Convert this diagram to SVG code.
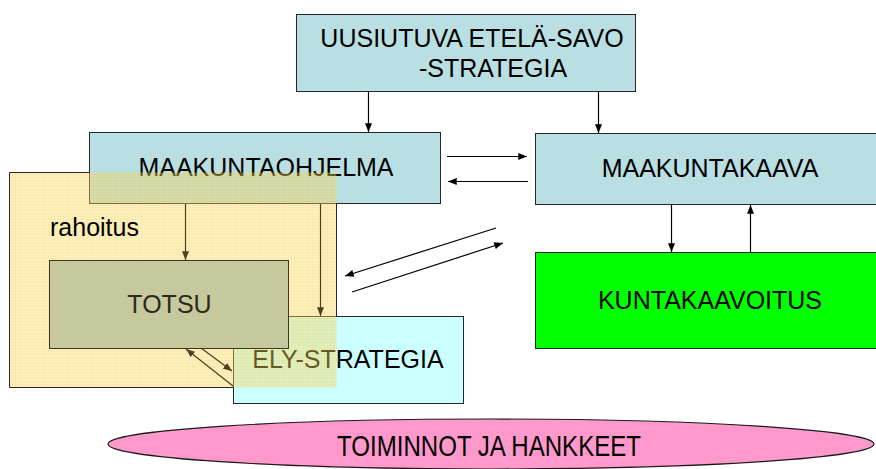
<svg xmlns="http://www.w3.org/2000/svg" width="876" height="469" viewBox="0 0 876 469">
  <defs>
    <style>
      .box { stroke: #262626; stroke-width: 1; }
      .blue { fill: #b9dfe2; }
      .lbl { font-family: "Liberation Sans", Arial, sans-serif; font-size: 25px; fill: #000; text-anchor: middle; }
      .conn { fill: none; stroke: #000; stroke-width: 1.2; marker-end: url(#ah); }
      .conn-in { fill: none; stroke: #4e4020; stroke-width: 1.2; marker-end: url(#ahb); }
    </style>
    <marker id="ah" viewBox="0 0 10 8" refX="10" refY="4" markerWidth="9" markerHeight="7" markerUnits="userSpaceOnUse" orient="auto">
      <path d="M0,0 L10,4 L0,8 z" fill="#000"/>
    </marker>
    <marker id="ahb" viewBox="0 0 10 8" refX="10" refY="4" markerWidth="9" markerHeight="7" markerUnits="userSpaceOnUse" orient="auto">
      <path d="M0,0 L10,4 L0,8 z" fill="#4e4020"/>
    </marker>
    <pattern id="grid" width="3" height="3" patternUnits="userSpaceOnUse">
      <rect width="3" height="3" fill="#ffdb5d"/>
      <path d="M0,0.5 H3 M0.5,0 V3" stroke="#f2c23a" stroke-width="0.6"/>
    </pattern>
  </defs>

  <g id="strategia">
    <rect class="box blue" x="296.5" y="14.5" width="339" height="77"/>
    <text class="lbl" x="472" y="47">UUSIUTUVA ETELÄ-SAVO</text>
    <text class="lbl" x="493" y="77">-STRATEGIA</text>
  </g>

  <g id="maakuntaohjelma">
    <rect class="box blue" x="89.5" y="132.5" width="351" height="71"/>
    <text class="lbl" x="266" y="176">MAAKUNTAOHJELMA</text>
  </g>

  <g id="maakuntakaava">
    <rect class="box blue" x="535.5" y="133.5" width="345" height="71"/>
    <text class="lbl" x="710" y="177">MAAKUNTAKAAVA</text>
  </g>

  <g id="kuntakaavoitus">
    <rect class="box" x="535.5" y="252.5" width="345" height="96" fill="#00ff00"/>
    <text class="lbl" x="710" y="309">KUNTAKAAVOITUS</text>
  </g>

  <g id="ely-strategia">
    <rect class="box" x="233.5" y="316.5" width="230" height="87" fill="#ccffff"/>
    <text class="lbl" x="348" y="368">ELY-STRATEGIA</text>
  </g>

  <g id="rahoitus">
    <rect x="9.5" y="172.5" width="327" height="215" fill="url(#grid)" opacity="0.42"/>
    <path d="M89.5,172.5 H9.5 V387.5 H233.5 M336.5,203.5 V316.5" fill="none" stroke="#262626" stroke-width="1"/>
    <text class="lbl" x="50" y="236" style="text-anchor:start">rahoitus</text>
  </g>

  <g id="totsu">
    <rect x="49.5" y="260.5" width="239" height="88" fill="#c6c89d" stroke="#3e3620" stroke-width="1"/>
    <text class="lbl" x="169.5" y="313" style="fill:#2e2a1a">TOTSU</text>
  </g>

  <g id="toiminnot">
    <ellipse cx="491" cy="444" rx="383" ry="25" fill="#ff99cc" stroke="#1a1a1a" stroke-width="1.2"/>
    <text class="lbl" x="489" y="456" style="font-size:29px" textLength="304" lengthAdjust="spacingAndGlyphs">TOIMINNOT JA HANKKEET</text>
  </g>

  <g id="connectors">
    <line class="conn" x1="368.5" y1="92" x2="368.5" y2="132"/>
    <line class="conn" x1="598.5" y1="92" x2="598.5" y2="133"/>
    <line class="conn" x1="447" y1="156.5" x2="527" y2="156.5"/>
    <line class="conn" x1="528" y1="181.5" x2="448" y2="181.5"/>
    <line class="conn" x1="496" y1="228" x2="345" y2="276"/>
    <line class="conn" x1="352" y1="292" x2="503" y2="243"/>
    <line class="conn" x1="671.5" y1="205" x2="671.5" y2="252"/>
    <line class="conn" x1="750.5" y1="252" x2="750.5" y2="205"/>
    <line class="conn-in" x1="185.5" y1="204" x2="185.5" y2="260"/>
    <line class="conn-in" x1="320.5" y1="204" x2="320.5" y2="316"/>
    <line class="conn-in" x1="233" y1="386" x2="186" y2="349"/>
    <line class="conn-in" x1="201" y1="348" x2="232" y2="371"/>
  </g>
</svg>
